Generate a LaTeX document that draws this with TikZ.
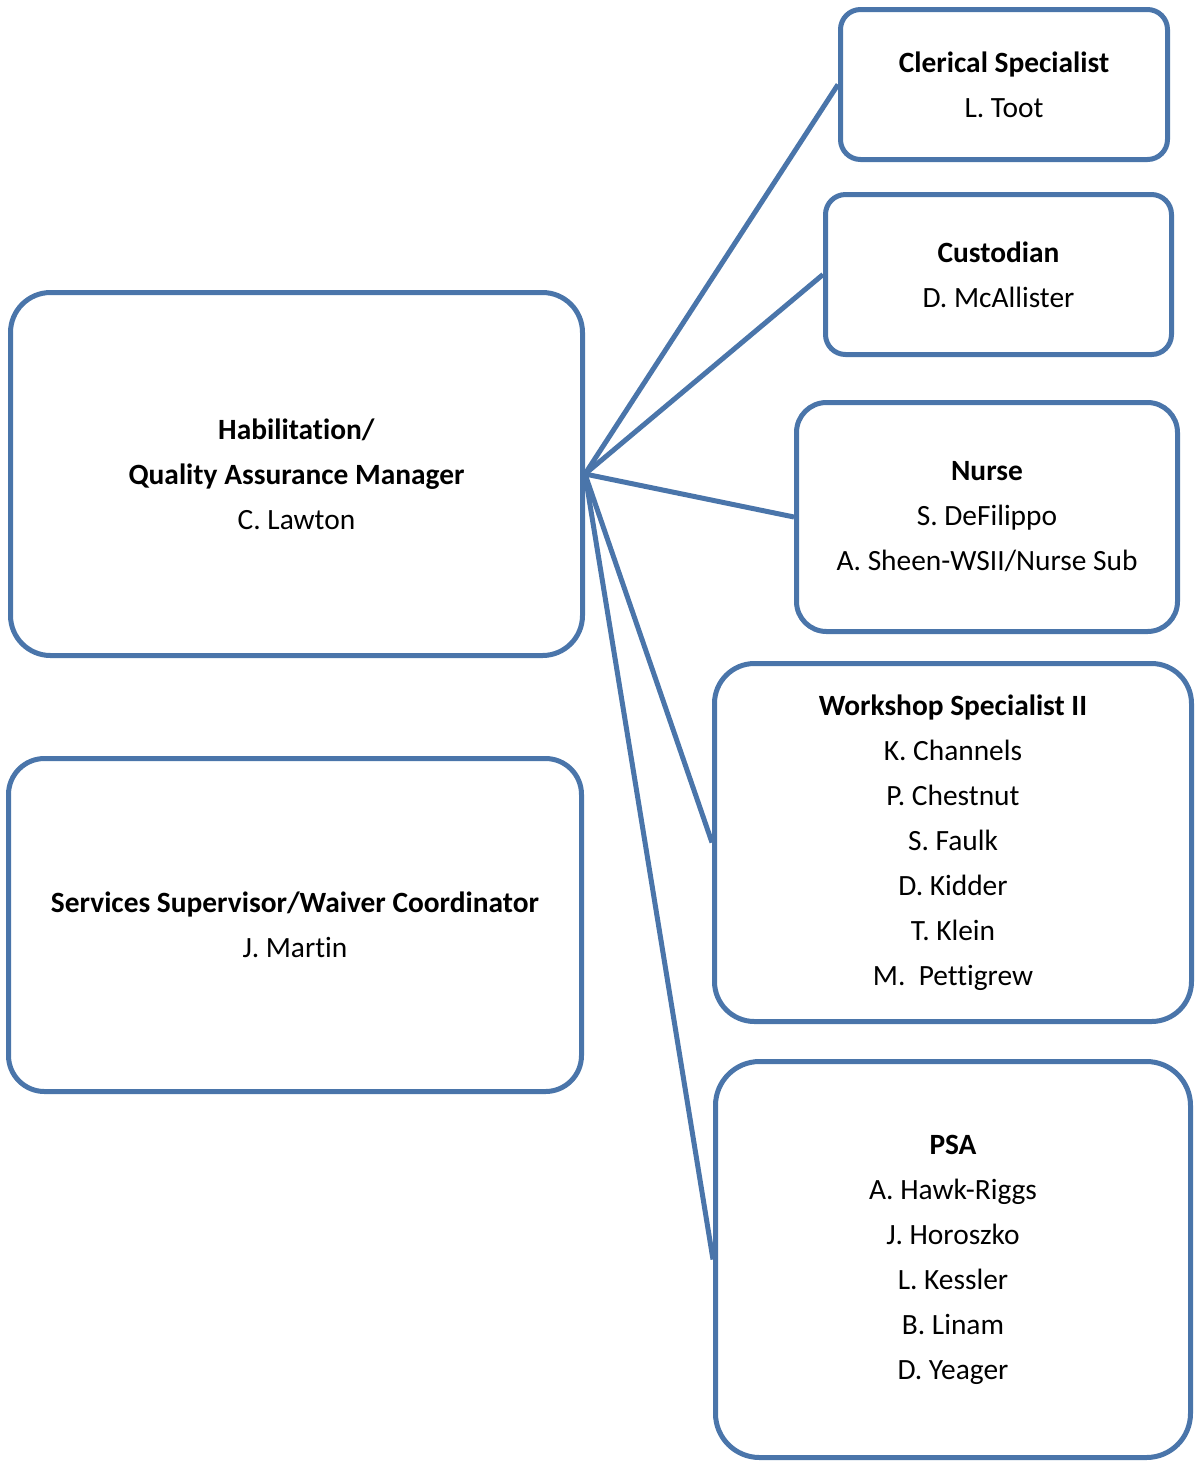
\documentclass[tikz,border=0pt]{standalone}
\usepackage{fontspec}
\setmainfont{Carlito}[Ligatures=NoCommon]
\definecolor{boxblue}{HTML}{4A75AA}
\begin{document}
\begin{tikzpicture}[x=0.5pt,y=-0.5pt,
  orgbox/.style={draw=boxblue, line width=2.5pt, inner sep=0pt, align=center,
    font=\fontsize{14.7}{22.5}\selectfont, text=black},
  link/.style={draw=boxblue, line width=2.5pt}]
\useasboundingbox (0,0) rectangle (1195,1464);

% staff boxes on the right
\node[orgbox, rounded corners=10pt, minimum width=163.5pt, minimum height=75pt] (clerical) at (1004,84.5)
  {\textbf{Clerical Specialist}\\L. Toot};
\node[orgbox, rounded corners=10pt, minimum width=173pt, minimum height=80pt] (custodian) at (998.5,274.5)
  {\textbf{Custodian}\\D. McAllister};
\node[orgbox, rounded corners=15pt, minimum width=190.5pt, minimum height=114.5pt] (nurse) at (987,517)
  {\textbf{Nurse}\\S. DeFilippo\\A. Sheen-WSII/Nurse Sub};
\node[orgbox, rounded corners=20pt, minimum width=238.5pt, minimum height=179pt] (workshop) at (953,842.5)
  {\textbf{Workshop Specialist II}\\K. Channels\\P. Chestnut\\S. Faulk\\D. Kidder\\T. Klein\\M.\ \ Pettigrew};
\node[orgbox, rounded corners=22pt, minimum width=237.5pt, minimum height=198pt] (psa) at (953,1259.5)
  {\textbf{PSA}\\A. Hawk-Riggs\\J. Horoszko\\L. Kessler\\B. Linam\\D. Yeager};

% managers on the left
\node[orgbox, rounded corners=20pt, minimum width=286pt, minimum height=181.5pt] (hab) at (296.5,474)
  {\textbf{Habilitation/}\\\textbf{Quality Assurance Manager}\\C. Lawton};
\node[orgbox, rounded corners=18pt, minimum width=286.5pt, minimum height=166.5pt] (services) at (295,925)
  {\textbf{Services Supervisor/Waiver Coordinator}\\J. Martin};

% reporting lines
\foreach \t in {clerical,custodian,nurse,workshop,psa}
  \draw[link] (hab.east) -- (\t.west);
\end{tikzpicture}
\end{document}
